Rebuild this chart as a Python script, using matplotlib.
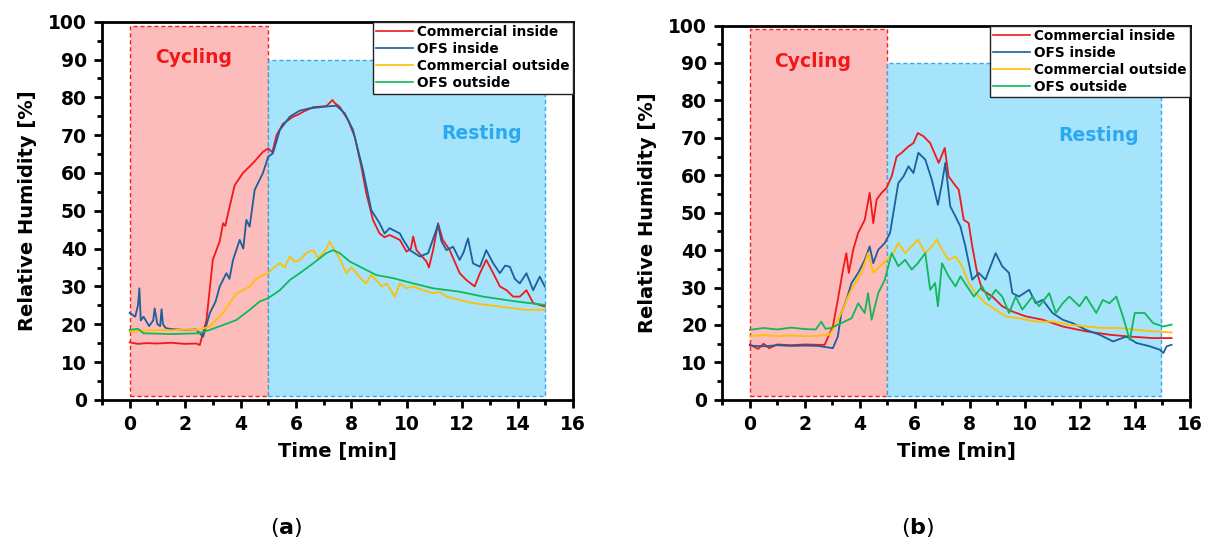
import matplotlib
matplotlib.use("Agg")
import matplotlib.pyplot as plt
from matplotlib.patches import Rectangle
from matplotlib.ticker import MultipleLocator

plt.rcParams['font.family'] = ['DejaVu Sans']
plt.rcParams['mathtext.fontset'] = 'dejavusans'

series_names = ["Commercial inside", "OFS inside", "Commercial outside", "OFS outside"]
series_colors = ["#f01818", "#1c5f9c", "#ffc000", "#10b85a"]

# ---------------- Panel (a) ----------------
a_ci_t = [0, 0.3, 0.6, 1.0, 1.5, 2.0, 2.4, 2.53, 2.77, 3.0, 3.13, 3.25, 3.37, 3.45, 3.55, 3.79, 4.09, 4.45, 4.81, 5.0,
          5.15, 5.3, 5.53, 5.9, 6.1, 6.26, 6.62, 7.1, 7.32, 7.4, 7.58, 7.88, 8.12, 8.36, 8.54, 8.78, 9.02, 9.2, 9.38,
          9.75, 9.99, 10.15, 10.23, 10.35, 10.71, 10.8, 10.95, 11.13, 11.3, 11.55, 11.91, 12.15, 12.45, 12.64, 12.87,
          13.12, 13.36, 13.6, 13.84, 14.08, 14.32, 14.56, 14.98]
a_ci_v = [15.2, 14.8, 15.0, 14.9, 15.1, 14.8, 14.9, 14.5, 21.0, 37.0, 39.6, 42.0, 46.7, 46.0, 49.3, 56.8, 60.0, 62.6,
          65.6, 66.5, 65.5, 70.0, 73.0, 74.9, 75.5, 76.2, 77.4, 77.7, 79.3, 78.5, 77.5, 74.0, 69.6, 61.7, 54.6, 47.6,
          44.0, 43.0, 43.6, 42.3, 39.2, 40.0, 43.2, 39.6, 36.6, 35.0, 39.6, 46.7, 42.3, 39.6, 33.5, 31.7, 30.0, 33.5,
          37.0, 33.5, 30.0, 29.0, 27.3, 27.3, 29.0, 25.6, 24.7]

a_oi_t = [0, 0.2, 0.3, 0.35, 0.4, 0.5, 0.7, 0.85, 0.9, 1.0, 1.1, 1.15, 1.2, 1.3, 1.5, 2.0, 2.4, 2.65, 2.89, 3.1, 3.25,
          3.49, 3.6, 3.73, 3.97, 4.1, 4.21, 4.33, 4.51, 4.81, 5.0, 5.17, 5.42, 5.78, 6.14, 6.5, 6.98, 7.46, 7.76, 8.06,
          8.42, 8.72, 9.02, 9.2, 9.38, 9.75, 9.9, 10.11, 10.47, 10.77, 11.13, 11.25, 11.43, 11.67, 11.91, 12.05, 12.21,
          12.39, 12.64, 12.87, 13.12, 13.36, 13.55, 13.72, 13.9, 14.08, 14.32, 14.56, 14.8, 14.98]
a_oi_v = [23.0, 22.0, 25.0, 29.5, 21.0, 22.0, 19.5, 21.0, 24.2, 20.0, 19.5, 24.0, 20.0, 19.0, 18.7, 18.5, 18.6, 16.7,
          22.9, 26.0, 30.0, 33.5, 32.0, 37.0, 42.3, 40.0, 47.6, 45.8, 55.5, 60.0, 64.3, 65.2, 71.4, 74.9, 76.5, 77.1,
          77.5, 77.8, 75.8, 71.4, 60.8, 50.2, 46.7, 44.0, 45.4, 44.0, 42.0, 39.6, 37.9, 38.8, 46.3, 42.0, 39.6, 40.5,
          37.0, 39.0, 42.7, 36.1, 35.2, 39.6, 36.1, 33.5, 35.5, 35.2, 32.0, 30.8, 33.5, 29.0, 32.6, 30.0]

a_co_t = [0, 0.5, 1.0, 1.5, 2.0, 2.5, 2.89, 3.1, 3.37, 3.6, 3.85, 4.1, 4.33, 4.5, 4.69, 5.0, 5.2, 5.42, 5.6, 5.78, 5.95,
          6.14, 6.4, 6.62, 6.8, 6.98, 7.1, 7.22, 7.46, 7.6, 7.82, 8.0, 8.18, 8.35, 8.54, 8.7, 8.9, 9.1, 9.27, 9.57,
          9.75, 10.0, 10.23, 10.59, 10.95, 11.2, 11.43, 11.91, 12.39, 12.87, 13.36, 13.84, 14.32, 14.98]
a_co_v = [18.0, 18.3, 18.5, 18.4, 18.6, 18.5, 19.4, 21.0, 22.9, 25.5, 28.2, 29.0, 30.0, 31.5, 32.6, 33.5, 35.0, 36.1,
          35.0, 37.9, 36.5, 37.0, 39.0, 39.6, 37.5, 38.8, 40.0, 41.9, 38.8, 37.0, 33.5, 35.0, 33.5, 32.0, 30.8, 33.0,
          31.7, 30.0, 30.8, 27.3, 30.8, 29.5, 30.0, 29.0, 28.2, 28.5, 27.3, 26.4, 25.6, 25.1, 24.7, 24.2, 23.8, 23.8]

a_oo_t = [0, 0.3, 0.5, 1.0, 1.5, 2.0, 2.5, 2.89, 3.37, 3.85, 4.33, 4.69, 5.0, 5.42, 5.78, 6.14, 6.62, 7.1, 7.34, 7.58,
          7.94, 8.42, 8.9, 9.5, 10.23, 10.95, 11.91, 12.76, 13.96, 14.98]
a_oo_v = [18.5, 18.8, 17.6, 17.5, 17.4, 17.5, 17.6, 18.5, 19.8, 21.1, 23.8, 26.0, 26.9, 29.0, 31.7, 33.5, 36.1, 38.8,
          39.6, 38.8, 36.6, 34.8, 33.0, 32.2, 30.8, 29.5, 28.6, 27.3, 26.0, 25.1]

# ---------------- Panel (b) ----------------
b_ci_t = [0, 0.3, 0.5, 0.7, 1.0, 1.5, 2.0, 2.5, 2.72, 3.02, 3.2, 3.39, 3.51, 3.6, 3.76, 3.94, 4.18, 4.36, 4.49, 4.61,
          4.79, 4.97, 5.16, 5.34, 5.52, 5.77, 5.95, 6.11, 6.32, 6.56, 6.87, 7.09, 7.23, 7.41, 7.6, 7.78, 7.96, 8.09,
          8.27, 8.45, 8.82, 9.18, 9.55, 10.04, 10.65, 11.38, 12.23, 13.08, 13.82, 14.67, 15.34]
b_ci_v = [14.8, 13.6, 15.0, 13.8, 14.8, 14.6, 14.8, 14.7, 14.7, 19.6, 26.7, 34.8, 39.2, 33.9, 40.1, 44.6, 48.1, 55.3,
          47.2, 53.5, 55.3, 56.6, 59.7, 65.0, 66.0, 67.7, 68.6, 71.3, 70.4, 68.6, 63.3, 67.3, 59.7, 57.9, 56.1, 48.1,
          47.2, 41.0, 33.9, 29.4, 27.6, 25.0, 23.6, 22.3, 21.4, 19.6, 18.3, 17.4, 16.9, 16.5, 16.5]

b_oi_t = [0, 0.5, 1.0, 1.5, 2.0, 2.5, 3.02, 3.2, 3.33, 3.51, 3.7, 3.94, 4.18, 4.36, 4.49, 4.67, 4.91, 5.1, 5.22, 5.4,
          5.59, 5.77, 5.95, 6.13, 6.38, 6.62, 6.84, 6.99, 7.11, 7.29, 7.48, 7.66, 7.84, 8.09, 8.33, 8.57, 8.94, 9.18,
          9.43, 9.55, 9.79, 10.16, 10.4, 10.65, 11.01, 11.38, 11.74, 12.23, 12.72, 13.21, 13.7, 14.06, 14.55, 14.91,
          15.04, 15.16, 15.34]
b_oi_v = [14.5, 14.3, 14.6, 14.4, 14.5, 14.4, 13.8, 16.9, 23.2, 26.7, 31.2, 33.9, 37.4, 41.0, 36.5, 40.1, 41.9, 44.6,
          49.9, 57.9, 59.7, 62.4, 60.6, 66.0, 64.2, 58.8, 52.1, 57.9, 63.3, 51.7, 49.0, 46.3, 41.0, 32.1, 33.9, 32.1,
          39.2, 35.7, 33.9, 28.5, 27.6, 29.4, 25.8, 26.7, 23.2, 21.4, 20.5, 18.7, 17.4, 15.6, 16.9, 15.2, 14.3, 13.4,
          12.5, 14.3, 14.7]

b_co_t = [0, 0.5, 1.0, 1.5, 2.0, 2.5, 2.9, 3.02, 3.33, 3.57, 3.82, 4.06, 4.3, 4.49, 4.73, 4.98, 5.22, 5.4, 5.65, 5.89,
          6.11, 6.38, 6.62, 6.8, 6.99, 7.23, 7.48, 7.72, 7.96, 8.21, 8.57, 8.94, 9.3, 9.79, 10.4, 11.01, 11.62, 12.23,
          12.84, 13.45, 14.06, 14.67, 15.34]
b_co_v = [17.0, 17.3, 17.0, 17.2, 17.0, 17.1, 17.4, 18.7, 23.2, 27.6, 31.2, 33.9, 39.2, 33.9, 35.7, 37.4, 39.2, 41.9,
          39.2, 41.0, 42.8, 39.2, 41.0, 42.8, 40.1, 37.4, 38.3, 35.7, 31.2, 28.5, 25.8, 24.1, 22.3, 21.8, 20.9, 20.9,
          20.1, 19.6, 19.2, 19.2, 18.7, 18.3, 18.0]

b_oo_t = [0, 0.5, 1.0, 1.5, 2.0, 2.4, 2.6, 2.75, 2.96, 3.33, 3.7, 3.94, 4.18, 4.3, 4.43, 4.67, 4.91, 5.16, 5.4, 5.65,
          5.89, 6.11, 6.38, 6.56, 6.74, 6.84, 6.99, 7.23, 7.48, 7.66, 7.9, 8.15, 8.45, 8.7, 8.94, 9.18, 9.43, 9.67, 9.91,
          10.28, 10.52, 10.89, 11.13, 11.38, 11.62, 11.99, 12.23, 12.6, 12.84, 13.08, 13.33, 13.57, 13.82, 14.0, 14.36,
          14.67, 15.04, 15.34]
b_oo_v = [18.7, 19.2, 18.8, 19.3, 18.9, 18.8, 20.9, 19.0, 19.2, 20.5, 21.8, 25.8, 23.2, 28.5, 21.4, 28.5, 32.1, 39.2,
          35.7, 37.4, 34.8, 36.5, 39.2, 29.4, 31.2, 25.0, 36.5, 33.0, 30.3, 33.0, 30.3, 27.6, 30.3, 26.7, 29.4, 27.6,
          23.2, 27.6, 24.1, 27.6, 25.0, 28.5, 23.2, 25.8, 27.6, 25.0, 27.6, 23.2, 26.7, 25.8, 27.6, 22.3, 16.0, 23.2,
          23.2, 20.5, 19.6, 20.1]

x_ticks = [0, 2, 4, 6, 8, 10, 12, 14, 16]
y_ticks = [0, 10, 20, 30, 40, 50, 60, 70, 80, 90, 100]

panels = [
    dict(data=[(a_ci_t, a_ci_v), (a_oi_t, a_oi_v), (a_co_t, a_co_v), (a_oo_t, a_oo_v)], rest_end=15.0, tag="a"),
    dict(data=[(b_ci_t, b_ci_v), (b_oi_t, b_oi_v), (b_co_t, b_co_v), (b_oo_t, b_oo_v)], rest_end=14.95, tag="b"),
]

fig = plt.figure(figsize=(12.14, 5.44), dpi=100)
ax_a = fig.add_axes([0.084, 0.265, 0.388, 0.695])
ax_b = fig.add_axes([0.595, 0.265, 0.385, 0.688])

for ax, p in zip([ax_a, ax_b], panels):
    ax.add_patch(Rectangle((0, 1), 5, 98, facecolor="#fcbcbc", edgecolor="#f02020", ls=(0, (3, 2)), lw=1.0, zorder=0))
    ax.add_patch(Rectangle((5, 1), p["rest_end"] - 5, 89, facecolor="#a6e4fb", edgecolor="#33aaee",
                           ls=(0, (3, 2)), lw=1.0, zorder=0))
    for (t, v), name, c in zip(p["data"], series_names, series_colors):
        ax.plot(t, v, color=c, lw=1.3, label=name, zorder=2)
    ax.text(2.3, 90.5, "Cycling", color="#f01818", fontsize=13.5, fontweight="bold", ha="center", va="center")
    ax.text(12.7, 70.5, "Resting", color="#2aa8f0", fontsize=13.5, fontweight="bold", ha="center", va="center")
    ax.set_xlim(-1, 16)
    ax.set_ylim(0, 100)
    ax.set_xticks(x_ticks)
    ax.set_yticks(y_ticks)
    ax.xaxis.set_minor_locator(MultipleLocator(1))
    ax.yaxis.set_minor_locator(MultipleLocator(5))
    ax.tick_params(which="major", direction="out", length=6, width=2, labelsize=13.5, pad=5)
    ax.tick_params(which="minor", direction="out", length=3.5, width=2)
    for lbl in ax.get_xticklabels() + ax.get_yticklabels():
        lbl.set_fontweight("bold")
    for s in ax.spines.values():
        s.set_linewidth(2)
    ax.set_xlabel("Time [min]", fontsize=14, fontweight="bold", labelpad=6)
    ax.set_ylabel("Relative Humidity [%]", fontsize=14, fontweight="bold", labelpad=8)
    leg = ax.legend(loc="upper right", bbox_to_anchor=(1.0, 1.0), borderaxespad=0.0, fancybox=False,
                    framealpha=1, edgecolor="#222222", prop=dict(size=9.8, weight="bold"),
                    handlelength=2.7, labelspacing=0.22, borderpad=0.25, handletextpad=0.3)
    leg.get_frame().set_linewidth(1.0)
    for h in leg.get_lines():
        h.set_linewidth(1.2)

fig.text(0.236, 0.03, r"($\mathbf{a}$)", fontsize=16, ha="center", va="center")
fig.text(0.756, 0.03, r"($\mathbf{b}$)", fontsize=16, ha="center", va="center")

fig.savefig("out.png", dpi=100)
